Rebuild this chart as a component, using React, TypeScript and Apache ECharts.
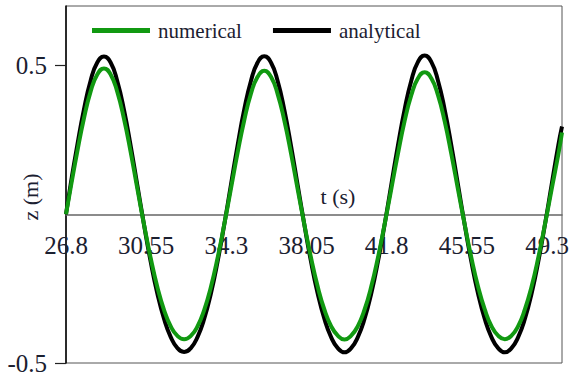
import React, { useEffect, useRef } from "react";
import * as echarts from "echarts";

const times: number[] = [
  26.8, 27.0125, 27.325, 27.6375, 27.95, 28.2625, 28.575, 28.8875, 29.2, 29.5125, 29.825,
  30.1375, 30.45, 30.7625, 31.075, 31.3875, 31.7, 32.0125, 32.325, 32.6375, 32.95,
  33.2625, 33.575, 33.8875, 34.2, 34.5125, 34.825, 35.1375, 35.45, 35.7625, 36.075,
  36.3875, 36.7, 37.0125, 37.325, 37.6375, 37.95, 38.2625, 38.575, 38.8875, 39.2,
  39.5125, 39.825, 40.1375, 40.45, 40.7625, 41.075, 41.3875, 41.7, 42.0125, 42.325,
  42.6375, 42.95, 43.2625, 43.575, 43.8875, 44.2, 44.5125, 44.825, 45.1375, 45.45,
  45.7625, 46.075, 46.3875, 46.7, 47.0125, 47.325, 47.6375, 47.95, 48.2625, 48.575,
  48.8875, 49.2, 49.5125, 49.825, 50.0,
];

const analytical: number[] = [
  0.0, 0.098, 0.231, 0.352, 0.449, 0.51, 0.53, 0.51, 0.447, 0.351, 0.23,
  0.097, -0.036, -0.16, -0.267, -0.352, -0.413, -0.45, -0.463, -0.45, -0.413,
  -0.352, -0.267, -0.16, -0.036, 0.098, 0.231, 0.352, 0.448, 0.51, 0.531,
  0.51, 0.448, 0.351, 0.23, 0.097, -0.036, -0.16, -0.267, -0.352, -0.413,
  -0.45, -0.464, -0.45, -0.413, -0.352, -0.267, -0.16, -0.036, 0.098, 0.231,
  0.352, 0.449, 0.512, 0.534, 0.512, 0.449, 0.352, 0.231, 0.098, -0.036,
  -0.16, -0.267, -0.352, -0.413, -0.45, -0.464, -0.45, -0.413, -0.352, -0.267,
  -0.16, -0.036, 0.098, 0.231, 0.295,
];

const numerical: number[] = [
  0.0, 0.087, 0.21, 0.322, 0.412, 0.47, 0.49, 0.47, 0.411, 0.321, 0.209,
  0.086, -0.035, -0.148, -0.245, -0.322, -0.377, -0.409, -0.42, -0.409, -0.377,
  -0.322, -0.245, -0.148, -0.035, 0.085, 0.206, 0.316, 0.405, 0.462, 0.482,
  0.462, 0.404, 0.315, 0.205, 0.084, -0.035, -0.147, -0.244, -0.321, -0.376,
  -0.408, -0.421, -0.408, -0.376, -0.321, -0.244, -0.147, -0.035, 0.084, 0.203,
  0.313, 0.4, 0.457, 0.477, 0.457, 0.4, 0.312, 0.202, 0.083, -0.035,
  -0.147, -0.244, -0.32, -0.376, -0.408, -0.42, -0.408, -0.376, -0.32, -0.244,
  -0.147, -0.035, 0.083, 0.2, 0.275,
];

const xTicks: number[] = [26.8, 30.55, 34.3, 38.05, 41.8, 45.55, 49.3];
const yTicks: number[] = [-0.5, 0.5];

const seriesNames = ["numerical", "analytical"];

const FONT = "'Liberation Serif', 'Times New Roman', serif";
const TEXT = "#1b2030";

const Y_MIN = -0.5;
const Y_MAX = 0.7;
const GRID_TOP = 6;
const GRID_BOTTOM = 14;
const HEIGHT = 377;

export default function App() {
  const ref = useRef<HTMLDivElement>(null);

  useEffect(() => {
    if (!ref.current) return;
    const chart = echarts.init(ref.current, undefined, { renderer: "svg" });
    const pairs = (vals: number[]) => times.map((t, i) => [t, vals[i]]);
    const plotH = HEIGHT - GRID_TOP - GRID_BOTTOM;
    // distance from the bottom of the grid up to the value 0 on the y scale
    const zeroOffset = (plotH * (0 - Y_MIN)) / (Y_MAX - Y_MIN);
    chart.setOption({
      animation: false,
      backgroundColor: "#ffffff",
      grid: {
        left: 66,
        right: 8,
        top: GRID_TOP,
        bottom: GRID_BOTTOM,
        show: true,
        borderColor: "#555555",
        borderWidth: 1,
        containLabel: false,
        outerBoundsMode: "none",
      },
      legend: {
        data: seriesNames,
        left: 92,
        top: 20,
        padding: 0,
        icon: "rect",
        itemWidth: 58,
        itemHeight: 5,
        itemGap: 31,
        textStyle: {
          fontFamily: FONT,
          fontSize: 21,
          color: TEXT,
          padding: [0, 0, 0, 3],
        },
      },
      xAxis: {
        type: "value",
        min: 26.8,
        max: 50,
        position: "bottom",
        offset: -zeroOffset,
        axisLine: { onZero: false, lineStyle: { color: "#666666", width: 1.5 } },
        axisTick: { show: false },
        splitLine: { show: false },
        axisLabel: {
          customValues: xTicks,
          fontFamily: FONT,
          fontSize: 25,
          color: TEXT,
          margin: 19,
        },
      },
      yAxis: {
        type: "value",
        min: Y_MIN,
        max: Y_MAX,
        axisLine: { onZero: false, lineStyle: { color: "#000000", width: 1.5 } },
        axisTick: {
          customValues: yTicks,
          length: 11,
          lineStyle: { color: "#222222", width: 1.2 },
        },
        splitLine: { show: false },
        axisLabel: {
          customValues: yTicks,
          fontFamily: FONT,
          fontSize: 25,
          color: TEXT,
          margin: 19,
        },
      },
      graphic: [
        {
          type: "text",
          x: 338,
          y: 196,
          style: {
            text: "t (s)",
            font: `22px ${FONT}`,
            fill: TEXT,
            align: "center",
            verticalAlign: "middle",
          },
        },
        {
          type: "text",
          x: 30,
          y: 197,
          rotation: Math.PI / 2,
          style: {
            text: "z (m)",
            font: `22px ${FONT}`,
            fill: TEXT,
            align: "center",
            verticalAlign: "middle",
          },
        },
      ],
      series: [
        {
          name: "analytical",
          type: "line",
          data: pairs(analytical),
          showSymbol: false,
          smooth: true,
          color: "#000000",
          lineStyle: { color: "#000000", width: 4 },
        },
        {
          name: "numerical",
          type: "line",
          data: pairs(numerical),
          showSymbol: false,
          smooth: true,
          color: "#119911",
          lineStyle: { color: "#119911", width: 4 },
        },
      ],
    });
    return () => chart.dispose();
  }, []);

  return (
    <div
      ref={ref}
      style={{ position: "fixed", left: 0, top: 0, width: 570, height: 377, background: "#fff" }}
    />
  );
}
